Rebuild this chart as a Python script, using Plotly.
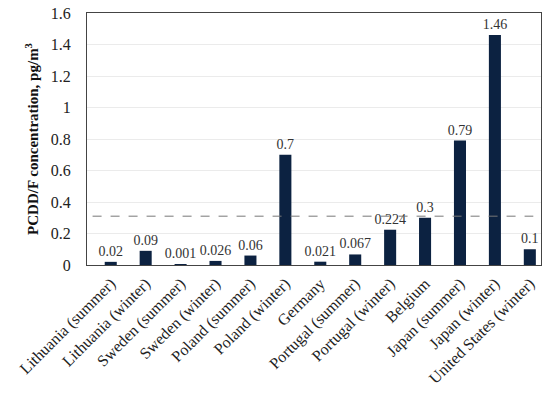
import plotly.graph_objects as go

categories = ["Lithuania (summer)", "Lithuania (winter)", "Sweden (summer)", "Sweden (winter)",
              "Poland (summer)", "Poland (winter)", "Germany", "Portugal (summer)",
              "Portugal (winter)", "Belgium", "Japan (summer)", "Japan (winter)",
              "United States (winter)"]
values = [0.02, 0.09, 0.001, 0.026, 0.06, 0.7, 0.021, 0.067, 0.224, 0.3, 0.79, 1.46, 0.1]
labels = ["0.02", "0.09", "0.001", "0.026", "0.06", "0.7", "0.021", "0.067", "0.224", "0.3", "0.79", "1.46", "0.1"]
reference_level = 0.31
y_ticks = [0, 0.2, 0.4, 0.6, 0.8, 1, 1.2, 1.4, 1.6]
y_tick_text = ["0", "0.2", "0.4", "0.6", "0.8", "1", "1.2", "1.4", "1.6"]

FONT = "Liberation Serif"

fig = go.Figure()
fig.add_trace(go.Bar(
    x=list(range(len(categories))), y=values, width=0.345,
    marker=dict(color="#0c2241", line=dict(width=0)),
    text=labels, textposition="outside", cliponaxis=False, constraintext="none",
    textfont=dict(family=FONT, size=14, color="#333333"),
))
fig.add_shape(type="line", xref="x", yref="y", x0=-0.52, x1=12.1,
              y0=reference_level, y1=reference_level,
              line=dict(color="#777777", width=1, dash="dash"))

fig.update_layout(
    width=550, height=396,
    margin=dict(l=87, r=9, t=13, b=131),
    paper_bgcolor="white", plot_bgcolor="white",
    showlegend=False,
    font=dict(family=FONT, color="#222222"),
    uniformtext=dict(minsize=13, mode="show"),
)
fig.update_xaxes(
    tickmode="array", tickvals=list(range(len(categories))), ticktext=categories,
    tickangle=-45, tickfont=dict(family=FONT, size=16, color="#222222"),
    range=[-0.68, 12.32], showgrid=False, zeroline=False, automargin=False,
    showline=True, linecolor="#444444", linewidth=1, mirror=True, ticks="",
    ticklabelstandoff=2, ticklabeloverflow="allow",
)
fig.update_yaxes(
    range=[0, 1.6], tickmode="array", tickvals=y_ticks, ticktext=y_tick_text,
    tickfont=dict(family=FONT, size=16, color="#222222"), automargin=False,
    showgrid=True, gridcolor="#ebebeb", gridwidth=1, zeroline=False,
    showline=True, linecolor="#444444", linewidth=1, mirror=True, ticks="",
    ticklabelstandoff=12, ticklabeloverflow="allow",
    title=dict(text="<b>PCDD/F concentration, pg/m<sup>3</sup></b>",
               font=dict(family=FONT, size=15, color="#111111"), standoff=8),
)

fig.write_html("out.html", config={"displayModeBar": False},
               post_script="document.body.style.margin='0';document.body.style.overflow='hidden';")
